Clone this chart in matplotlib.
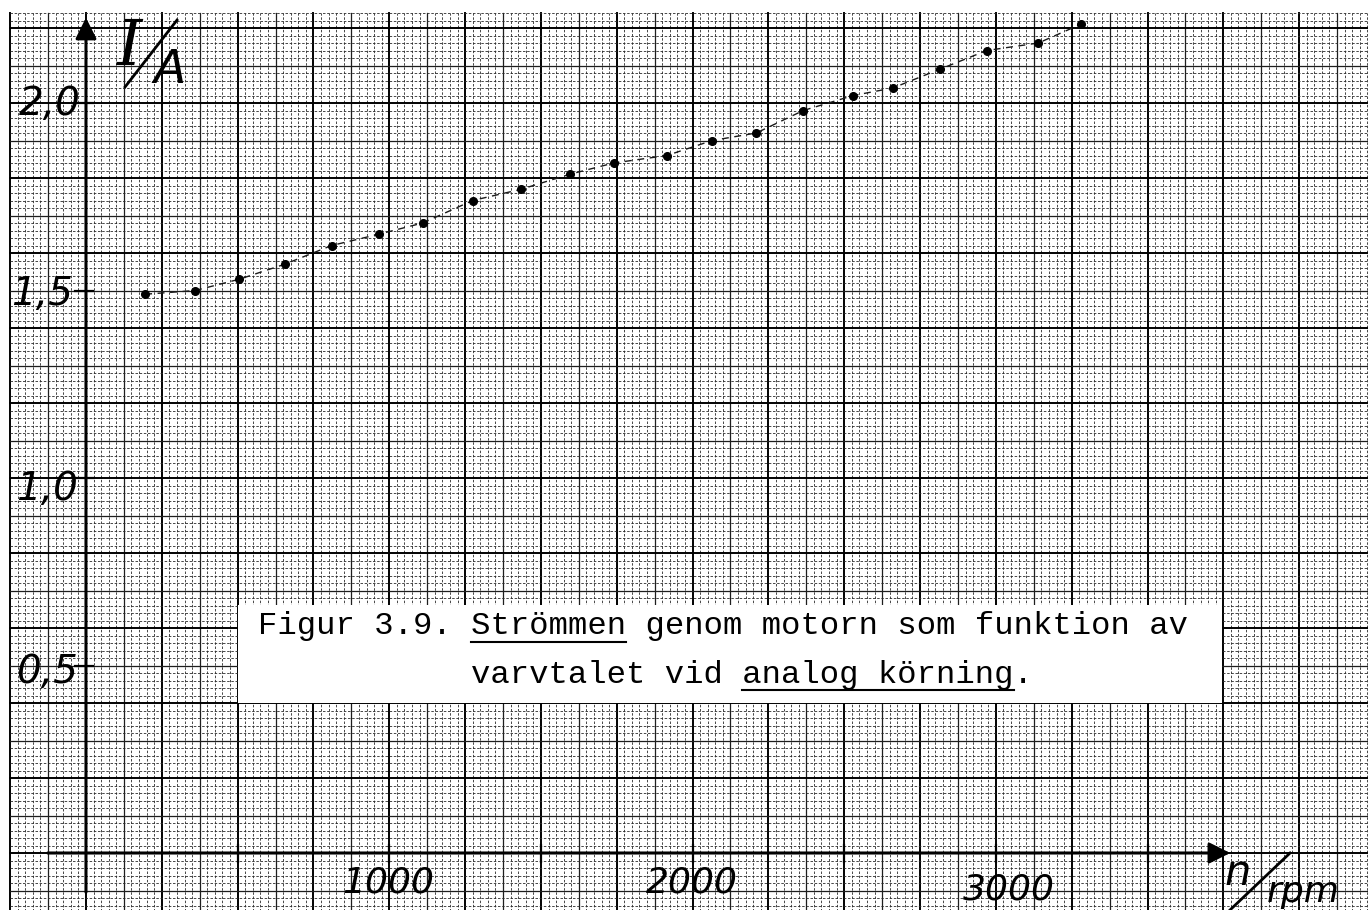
import numpy as np
import matplotlib
matplotlib.use("Agg")
import matplotlib.pyplot as plt
from matplotlib.patches import Rectangle

# motor current vs speed, analog drive
n_rpm = [195, 360, 505, 655, 810, 965, 1110, 1275, 1435, 1595, 1740,
         1915, 2065, 2210, 2365, 2530, 2660, 2815, 2970, 3140, 3280]
i_amp = [1.49, 1.50, 1.53, 1.57, 1.62, 1.65, 1.68, 1.74, 1.77, 1.81, 1.84,
         1.86, 1.90, 1.92, 1.98, 2.02, 2.04, 2.09, 2.14, 2.16, 2.21]

x_ticks = [500, 1000, 1500, 2000, 2500, 3000, 3500]
x_labels = {1000: "1000", 2000: "2000", 3000: "3000"}
y_ticks = [0.5, 1.0, 1.5, 2.0]
y_labels = ["0,5", "1,0", "1,5", "2,0"]

caption1 = "Figur 3.9. Strömmen genom motorn som funktion av"
caption2 = "varvtalet vid analog körning."

hand = ["Liberation Sans Narrow", "DejaVu Sans"]

fig = plt.figure(figsize=(13.68, 9.10), dpi=100)
ax = fig.add_axes([0, 0, 1, 1])
ax.set_xlim(-283.5, 4227)
ax.set_ylim(-0.152, 2.2747)
ax.axis("off")

# graph paper: 1 mm fine, 5 mm medium, 1 cm heavy
gx0, gy1 = -252, 2.241
xs = np.arange(-250, 4250, 25)
ys = np.arange(-0.14, 2.25, 0.02)
for k, x in enumerate(xs):
    if k % 10 == 0:
        ax.plot([x, x], [-0.2, gy1], color="black", lw=1.4, zorder=1)
    elif k % 5 == 0:
        ax.plot([x, x], [-0.2, gy1], color="#1e1e1e", lw=0.9, zorder=1)
    else:
        ax.plot([x, x], [-0.2, gy1], color="#2a2a2a", lw=0.6,
                ls=(0, (3, 2)), zorder=1)
for y in ys:
    k = int(round(y / 0.02))
    if k % 10 == 0:
        ax.plot([gx0, 4300], [y, y], color="black", lw=1.4, zorder=1)
    elif k % 5 == 0:
        ax.plot([gx0, 4300], [y, y], color="#1e1e1e", lw=0.9, zorder=1)
    else:
        ax.plot([gx0, 4300], [y, y], color="#2a2a2a", lw=0.6,
                ls=(0, (3, 2)), zorder=1)

# axes with arrows
ax.annotate("", xy=(0, 2.235), xytext=(0, -0.112),
            arrowprops=dict(arrowstyle="-|>", lw=2.2, color="black",
                            mutation_scale=32), zorder=4)
ax.annotate("", xy=(3782, 0), xytext=(-135, 0),
            arrowprops=dict(arrowstyle="-|>", lw=2.2, color="black",
                            mutation_scale=32), zorder=4)
for x in x_ticks:
    ax.plot([x, x], [-0.025, 0.022], color="black", lw=1.6, zorder=4)
for y in y_ticks:
    ax.plot([-36, 23], [y, y], color="black", lw=1.6, zorder=4)

# handwritten scale labels
y_lab_x = [-129, -129, -145, -119]
y_lab_base = [0.453, 0.941, 1.461, 1.968]
for lab, lx, ly in zip(y_labels, y_lab_x, y_lab_base):
    ax.text(lx, ly, lab, family=hand, style="italic", fontsize=28,
            ha="center", va="baseline", zorder=5)
x_lab_base = {1000: -0.104, 2000: -0.104, 3000: -0.125}
x_lab_x = {1000: 996, 2000: 1998, 3000: 3043}
for v, lab in x_labels.items():
    ax.text(x_lab_x[v], x_lab_base[v], lab, family=hand, style="italic",
            fontsize=26, ha="center", va="baseline", zorder=5)

# quantity / unit labels
ax.text(145, 2.101, "I", family="DejaVu Serif", style="italic", fontsize=46,
        ha="center", va="baseline", zorder=5)
ax.plot([300, 129], [2.221, 2.043], color="black", lw=2.0, zorder=5)
ax.text(277, 2.053, "A", family=hand, style="italic", fontsize=34,
        ha="center", va="baseline", zorder=5)
ax.text(3798, -0.053, "n", family=hand, style="italic", fontsize=30,
        ha="center", va="center", zorder=5)
ax.plot([3970, 3772], [0.0, -0.152], color="black", lw=2.0, zorder=5)
ax.text(4012, -0.131, "rpm", family=hand, style="italic", fontsize=26,
        ha="center", va="baseline", zorder=5)

# measured points with the dashed trend through them
ax.plot(n_rpm, i_amp, color="#1a1a1a", lw=1.0, ls=(0, (5, 4)), zorder=3)
ax.plot(n_rpm, i_amp, "o", color="black", ms=5.5, zorder=4)

# typed caption pasted over the grid
ax.add_patch(Rectangle((501, 0.400), 3745 - 501, 0.661 - 0.400,
                       facecolor="white", edgecolor="none", zorder=6))
cx = 567
t1 = ax.text(cx, 0.584, caption1, family="Liberation Mono", fontsize=23.2,
             ha="left", va="baseline", zorder=7)
fig.canvas.draw()
bb = t1.get_window_extent(fig.canvas.get_renderer())
inv = ax.transData.inverted()
(dx0, _), (dx1, _) = inv.transform([[bb.x0, bb.y0], [bb.x1, bb.y0]])
cw = (dx1 - dx0) / len(caption1)
c2x = cx + 11 * cw
ax.text(c2x, 0.453, caption2, family="Liberation Mono", fontsize=23.2,
        ha="left", va="baseline", zorder=7)
ax.plot([cx + 11 * cw, cx + 19 * cw], [0.563, 0.563], color="black",
        lw=1.5, zorder=7)
ax.plot([c2x + 14 * cw, c2x + 28 * cw], [0.435, 0.435], color="black",
        lw=1.5, zorder=7)

fig.savefig("out.png", dpi=100)
